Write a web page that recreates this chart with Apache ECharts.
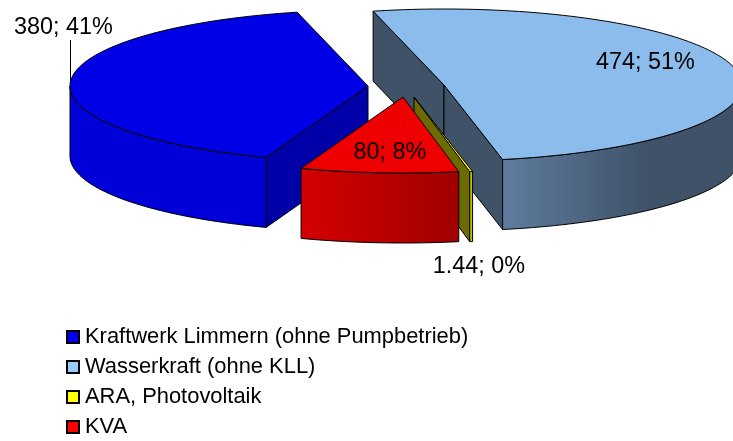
<!DOCTYPE html>
<html>
<head>
<meta charset="utf-8">
<style>
  html, body { margin: 0; padding: 0; background: #fff; }
  #main { width: 733px; height: 441px; }
</style>
</head>
<body>
<div id="main"></div>
<script src="https://cdn.jsdelivr.net/npm/echarts@6/dist/echarts.min.js"></script>
<script>
// data
var categories = ['Kraftwerk Limmern (ohne Pumpbetrieb)', 'Wasserkraft (ohne KLL)', 'ARA, Photovoltaik', 'KVA'];
var values = [380, 474, 1.44, 80];
var shareLabels = [41, 51, 0, 8];

// pie geometry, exploded so every slice has its own centre
var firstAngle = 200; // clockwise from 12 o'clock
var radiusX = 298;
var radiusY = 76;
var depth = 70;
var centers = [[368, 86], [444, 85], [414, 97], [403, 97]];
var labelCenters = [[63.5, 28], [645.5, 63], [479, 267], [390, 153]];
var drawOrder = [2, 1, 3, 4];

var legendColors = ['#0000ee', '#99ccff', '#ffff00', '#ff0000'];
var topColors = ['#0000e6', '#8cbcec', '#ffff00', '#ee0000'];
var wallColors = ['#0000a8', '#3f5268', '#6b6b00', '#a00000'];
var rimColors = [['#0000d8', '#0000d8'], ['#5f7d9f', '#3f5268'], ['#c4c400', '#c4c400'], ['#d40000', '#a00000']];

var total = values.reduce(function (a, b) { return a + b; }, 0);
var sliceAngles = [];
var cursor = firstAngle;
values.forEach(function (v) {
    var sweep = v / total * 360;
    sliceAngles.push([cursor, cursor + sweep]);
    cursor += sweep;
});

function rimPoint(c, deg, drop) {
    var r = deg * Math.PI / 180;
    return [c[0] + radiusX * Math.sin(r), c[1] - radiusY * Math.cos(r) + (drop || 0)];
}

function arcPoints(c, from, to, drop) {
    var pts = [];
    var n = Math.max(2, Math.ceil(Math.abs(to - from) / 1.5));
    for (var i = 0; i <= n; i++) {
        pts.push(rimPoint(c, from + (to - from) * i / n, drop));
    }
    return pts;
}

function wallPolygon(c, deg) {
    var p = rimPoint(c, deg);
    return [c, p, [p[0], p[1] + depth], [c[0], c[1] + depth]];
}

function edge(fill) {
    return { fill: fill, stroke: '#000', lineWidth: 1, lineJoin: 'round' };
}

function drawSlice(idx) {
    var a0 = sliceAngles[idx][0];
    var a1 = sliceAngles[idx][1];
    var c = centers[idx];
    var children = [];

    // radial walls that face the viewer
    if (Math.sin(a0 * Math.PI / 180) < 0) {
        children.push({ type: 'polygon', shape: { points: wallPolygon(c, a0) }, style: edge(wallColors[idx]) });
    }
    if (Math.sin(a1 * Math.PI / 180) > 0) {
        children.push({ type: 'polygon', shape: { points: wallPolygon(c, a1) }, style: edge(wallColors[idx]) });
    }

    // outer rim, front half only
    [90, 450].forEach(function (front) {
        var lo = Math.max(a0, front);
        var hi = Math.min(a1, front + 180);
        if (lo >= hi) return;
        var upper = arcPoints(c, lo, hi, 0);
        var lower = arcPoints(c, lo, hi, depth).reverse();
        var rim = rimColors[idx];
        children.push({
            type: 'polygon',
            shape: { points: upper.concat(lower) },
            style: edge(new echarts.graphic.LinearGradient(0, 0, 1, 0, [
                { offset: 0, color: rim[0] },
                { offset: idx === 1 ? 0.6 : 1, color: rim[1] },
                { offset: 1, color: rim[1] }
            ]))
        });
    });

    // top face
    children.push({
        type: 'polygon',
        shape: { points: [c].concat(arcPoints(c, a0, a1, 0)) },
        style: edge(topColors[idx])
    });

    // leader line only on the first slice
    if (idx === 0) {
        children.push({ type: 'line', shape: { x1: 70.5, y1: 40, x2: 70.5, y2: 82 }, style: { stroke: '#000', lineWidth: 1 } });
    }

    children.push({
        type: 'text',
        z2: 10,
        style: {
            text: values[idx] + '; ' + shareLabels[idx] + '%',
            x: labelCenters[idx][0],
            y: labelCenters[idx][1],
            align: 'center',
            verticalAlign: 'middle',
            fill: '#000',
            font: '23.4px "Liberation Sans", Arial, sans-serif'
        }
    });
    return { type: 'group', children: children };
}

var chart = echarts.init(document.getElementById('main'));
chart.setOption({
    backgroundColor: '#fff',
    animation: false,
    legend: {
        orient: 'vertical',
        left: 61,
        top: 321,
        height: 200,
        itemWidth: 12,
        itemHeight: 12,
        itemGap: 8,
        icon: 'rect',
        selectedMode: false,
        textStyle: { fontFamily: '"Liberation Sans", Arial, sans-serif', fontSize: 21.9, color: '#000', padding: [0, 0, 0, 1], lineHeight: 22 },
        data: categories.map(function (name, i) {
            return { name: name, itemStyle: { color: legendColors[i], borderColor: '#000', borderWidth: 2 } };
        })
    },
    series: categories.map(function (name, i) {
        return {
            type: 'custom',
            name: name,
            coordinateSystem: 'none',
            z: drawOrder[i],
            silent: true,
            data: [values[i]],
            itemStyle: { color: legendColors[i] },
            renderItem: function () { return drawSlice(i); }
        };
    })
});
window.addEventListener('resize', function () { chart.resize(); });
</script>
</body>
</html>
